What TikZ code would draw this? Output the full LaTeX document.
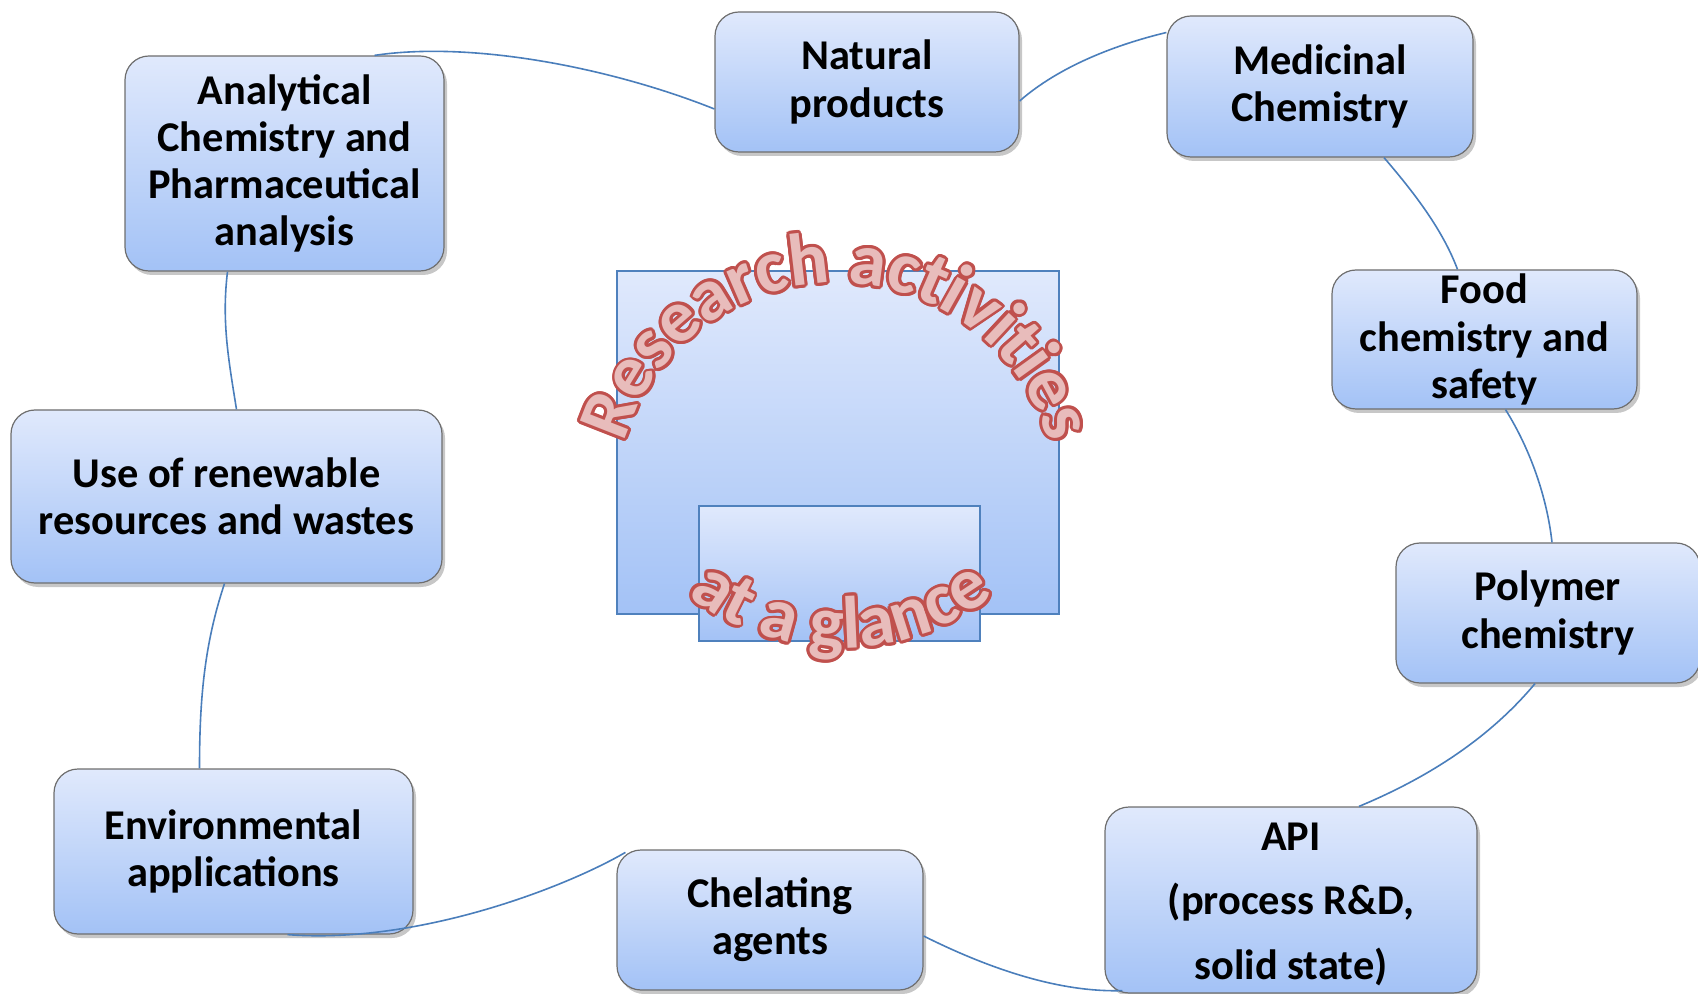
\documentclass[tikz,border=0pt]{standalone}
\usepackage{fontspec}
\setmainfont{Carlito}
\usepackage{contour}
\contourlength{1.5pt}
\usetikzlibrary{shadows,decorations.text,calc}
\definecolor{boxtop}{RGB}{224,233,252}
\definecolor{boxbot}{RGB}{163,194,246}
\definecolor{boxedge}{RGB}{110,110,110}
\definecolor{linkblue}{RGB}{74,126,187}
\definecolor{rectedge}{RGB}{79,129,189}
\definecolor{wared}{RGB}{192,80,77}
\definecolor{wapink}{RGB}{232,188,187}
\newcommand\waglyph[1]{\contour{wared}{#1}}
\newcommand\wafont{\fontsize{37}{44}\selectfont\bfseries}
\begin{document}
\begin{tikzpicture}[x=0.5pt,y=-0.5pt,
  topic/.style={draw=boxedge, line width=0.6pt, rounded corners=12pt,
    top color=boxtop, bottom color=boxbot, align=center,
    font=\fontsize{21.2}{23.6}\selectfont\bfseries, inner sep=0pt,
    drop shadow={shadow xshift=1.5pt, shadow yshift=-2pt, fill=black, opacity=0.22}},
  panel/.style={draw=rectedge, line width=0.8pt, top color=boxtop, bottom color=boxbot, inner sep=0pt},
  link/.style={draw=linkblue, line width=0.8pt}]
\useasboundingbox (0,0) rectangle (1698,994);

% centre panels
\node[panel, minimum width=221pt, minimum height=171.5pt] (big) at (838,442.5) {};
\node[panel, minimum width=140.5pt, minimum height=67.5pt] (small) at (839.5,573.5) {};

% topic boxes
\node[topic, minimum width=152pt, minimum height=70pt] (nat) at (867,82) {Natural\\products};
\node[topic, minimum width=153pt, minimum height=70.5pt] (med) at (1320,86.5) {Medicinal\\Chemistry};
\node[topic, minimum width=159.5pt, minimum height=107.5pt] (ana) at (284.5,163.5) {Analytical\\Chemistry and\\Pharmaceutical\\analysis};
\node[topic, minimum width=152.5pt, minimum height=69.5pt] (food) at (1484.5,339.5) {Food\\chemistry and\\safety};
\node[topic, minimum width=215.5pt, minimum height=86.5pt] (use) at (226.5,496.5) {Use of renewable\\resources and wastes};
\node[topic, minimum width=152pt, minimum height=70pt] (poly) at (1548,613) {Polymer\\chemistry};
\node[topic, minimum width=179.5pt, minimum height=82.5pt] (env) at (233.5,851.5) {Environmental\\applications};
\node[topic, minimum width=153pt, minimum height=70pt] (chel) at (770,920) {Chelating\\agents};
\node[topic, minimum width=186pt, minimum height=93pt, font=\fontsize{21.2}{32.3}\selectfont\bfseries] (api) at (1291,900) {\rule{0pt}{18pt}API\\(process R\&D,\\solid state)};

% connectors
\draw[link] ($(ana.north)+(90,0)$) .. controls +(100,-15) and +(-100,-40) .. ($(nat.west)+(0,27)$);
\draw[link] ($(nat.east)+(0,19)$) .. controls +(40,-35) and +(-50,12) .. ($(med.west)+(0,-54)$);
\draw[link] ($(med.south)+(64,0)$) .. controls +(30,35) and +(-15,-40) .. ($(food.north)+(-27,0)$);
\draw[link] ($(food.south)+(21,0)$) .. controls +(25,40) and +(-5,-45) .. ($(poly.north)+(4,0)$);
\draw[link] ($(poly.south)+(-13,0)$) .. controls +(-50,60) and +(60,-25) .. ($(api.north)+(68,0)$);
\draw[link] ($(chel.east)+(0,16)$) .. controls +(70,35) and +(-60,2) .. ($(api.south west)+(18,-3)$);
\draw[link] ($(env.south)+(54,0)$) .. controls +(130,10) and +(-60,35) .. ($(chel.north west)+(9,3)$);
\draw[link] ($(use.south)+(-2,0)$) .. controls +(-20,60) and +(0,-70) .. ($(env.north)+(-34,0)$);
\draw[link] ($(ana.south)+(-57,0)$) .. controls +(-6,50) and +(-8,-50) .. ($(use.north)+(10,0)$);

% word art
\path[decorate, decoration={text effects along path, text={Research activities}, text align=center,
   text effects/.cd, text along path, characters={font=\wafont, text=wapink}, character command=\waglyph}]
  ($(837,504)+(-178:221)$) arc (-178:-2:221);
\path[decorate, decoration={text effects along path, text={at a glance}, text align=center,
   text effects/.cd, text along path, characters={font=\wafont, text=wapink}, character command=\waglyph}]
  ($(841,398)+(150:250)$) arc (150:30:250);
\end{tikzpicture}
\end{document}
